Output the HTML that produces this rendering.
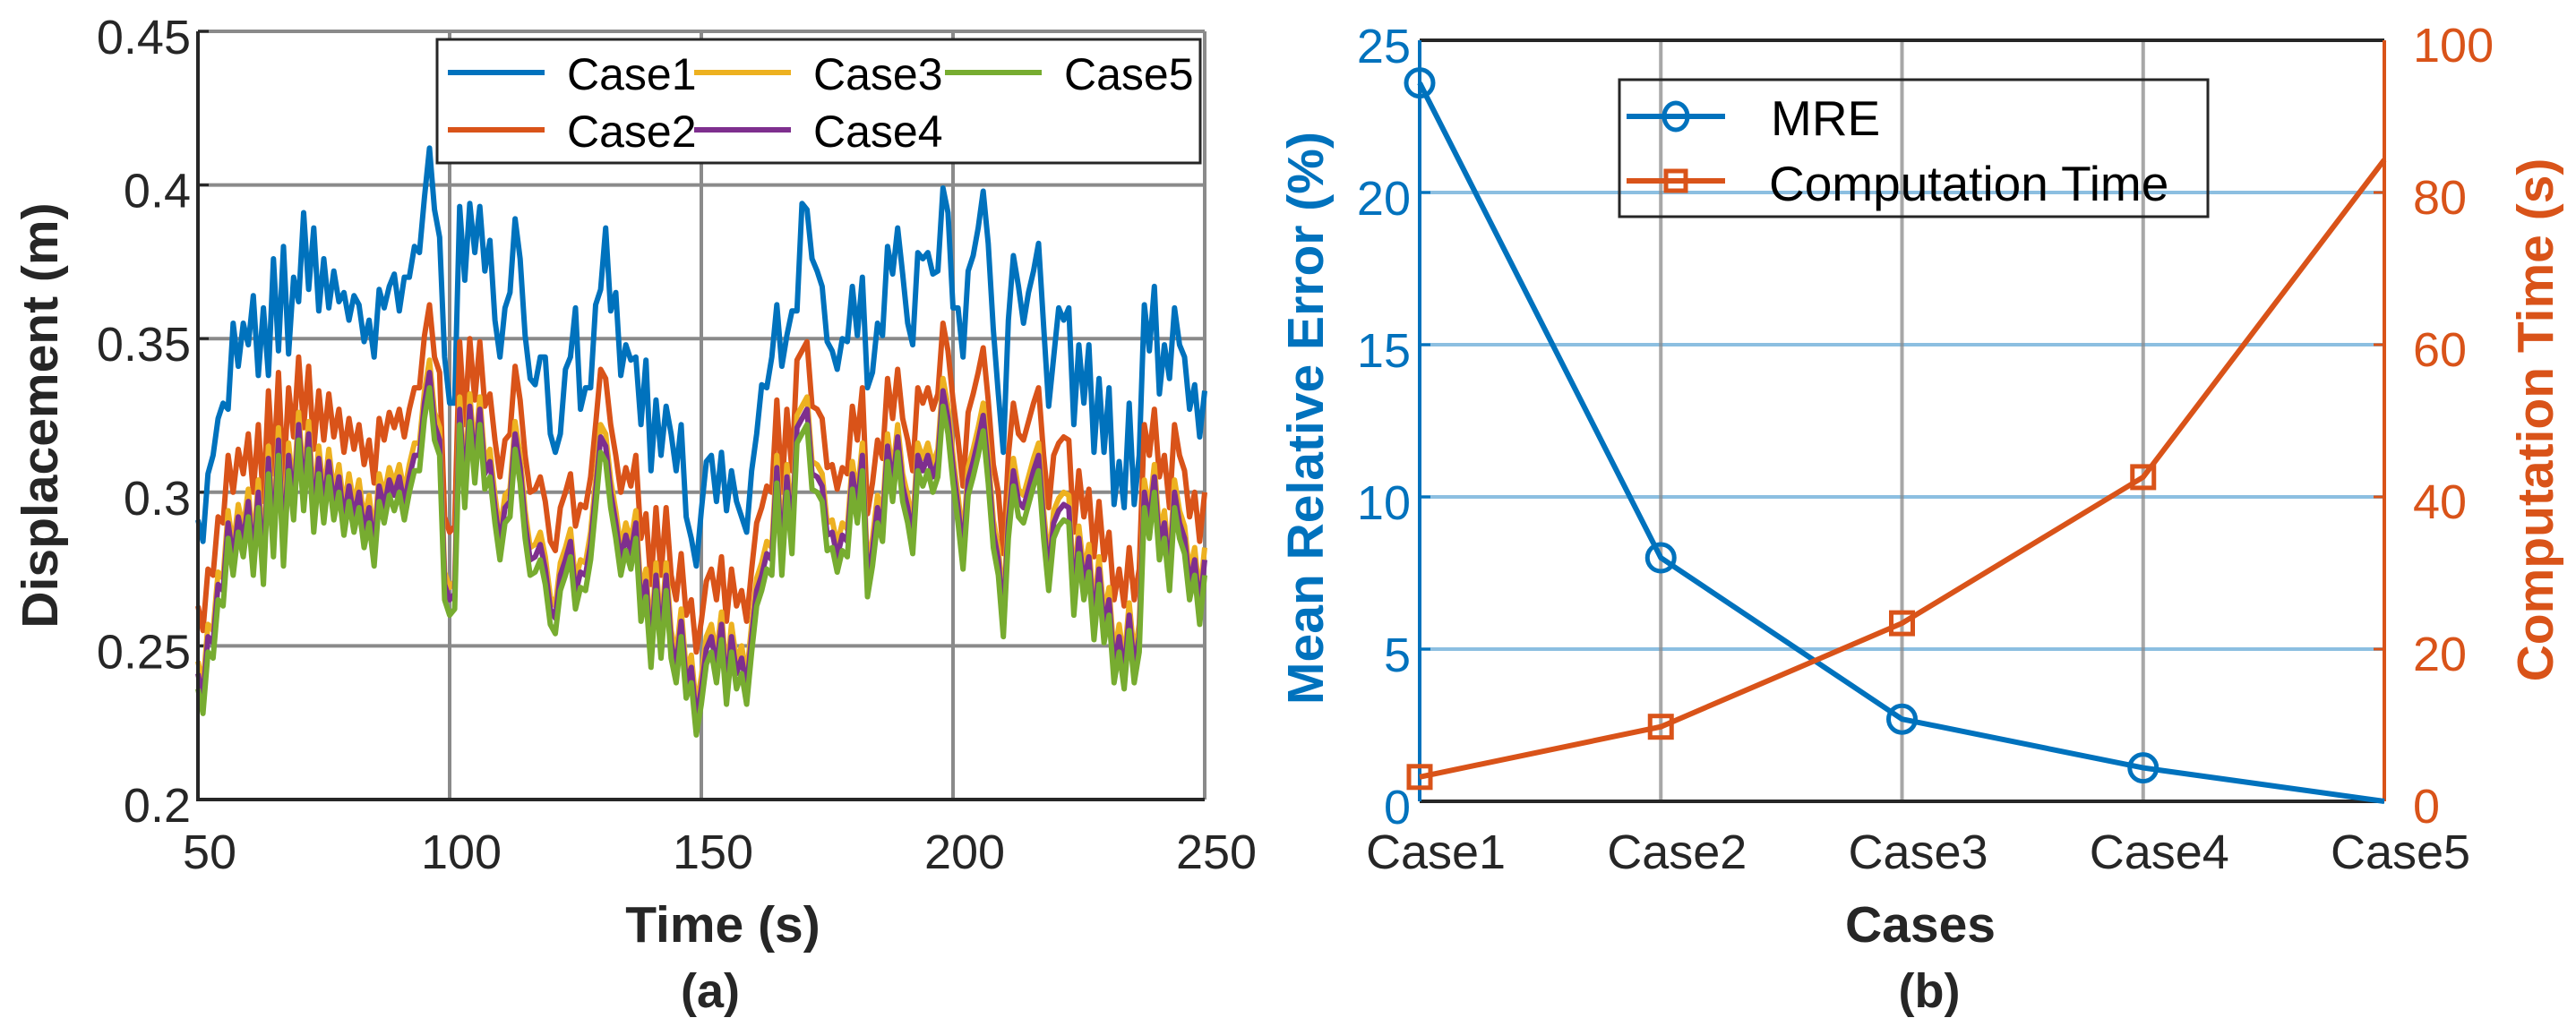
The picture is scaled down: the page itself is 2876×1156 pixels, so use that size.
<!DOCTYPE html>
<html><head><meta charset="utf-8"><style>
html,body{margin:0;padding:0;background:#fff;}
svg{display:block;font-family:"Liberation Sans",Arial,sans-serif;}
</style></head><body>
<svg id="fig" width="2876" height="1156" viewBox="0 0 2876 1156" xmlns="http://www.w3.org/2000/svg">
<rect x="0" y="0" width="2876" height="1156" fill="#fff"/>
<g id="pa"></g>
<g id="pb"></g>
<text x="45" y="464" transform="rotate(-90 45 464)" text-anchor="middle" dominant-baseline="central" font-size="57" font-weight="bold" fill="#262626">Displacement (m)</text>
<text x="807" y="1052" text-anchor="middle" font-size="57" font-weight="bold" fill="#262626">Time (s)</text>
<text x="793" y="1125" text-anchor="middle" font-size="54" font-weight="bold" fill="#262626">(a)</text>
<text x="1458" y="467" transform="rotate(-90 1458 467)" text-anchor="middle" dominant-baseline="central" font-size="57" font-weight="bold" fill="#0072bd">Mean Relative Error (%)</text>
<text x="2831" y="469" transform="rotate(-90 2831 469)" text-anchor="middle" dominant-baseline="central" font-size="57" font-weight="bold" fill="#d95319">Computation Time (s)</text>
<text x="2144" y="1052" text-anchor="middle" font-size="57" font-weight="bold" fill="#262626">Cases</text>
<text x="2154" y="1125" text-anchor="middle" font-size="54" font-weight="bold" fill="#262626">(b)</text>
</svg>
<script>
// ---------- Panel (a) data ----------
var tStart = 50;
var tStep = 1;
var xTicksA = [50,100,150,200,250];
var yTicksA = [0.2,0.25,0.3,0.35,0.4,0.45];
var yTickLabelsA = ["0.2","0.25","0.3","0.35","0.4","0.45"];
var seriesNamesA = ["Case1","Case2","Case3","Case4","Case5"];
var case1 = [0.291,0.284,0.306,0.312,0.324,0.329,0.327,0.355,0.341,0.355,
0.348,0.364,0.338,0.360,0.338,0.376,0.346,0.380,0.345,0.370,
0.362,0.391,0.366,0.386,0.359,0.376,0.360,0.372,0.362,0.365,
0.356,0.364,0.361,0.349,0.356,0.344,0.366,0.360,0.367,0.371,
0.359,0.370,0.370,0.380,0.378,0.396,0.412,0.392,0.383,0.344,
0.329,0.329,0.393,0.369,0.394,0.378,0.393,0.372,0.382,0.356,
0.344,0.360,0.365,0.389,0.376,0.351,0.337,0.335,0.344,0.344,
0.319,0.313,0.319,0.340,0.344,0.360,0.327,0.334,0.334,0.361,
0.366,0.386,0.359,0.365,0.338,0.348,0.343,0.344,0.322,0.343,
0.307,0.330,0.312,0.328,0.319,0.307,0.322,0.292,0.285,0.276,
0.294,0.310,0.312,0.297,0.313,0.294,0.307,0.297,0.292,0.287,
0.307,0.319,0.335,0.334,0.344,0.361,0.341,0.351,0.359,0.359,
0.394,0.392,0.376,0.372,0.367,0.349,0.346,0.340,0.350,0.349,
0.367,0.351,0.370,0.334,0.339,0.355,0.351,0.380,0.371,0.386,
0.371,0.355,0.348,0.378,0.376,0.378,0.371,0.372,0.399,0.391,
0.360,0.360,0.344,0.372,0.377,0.386,0.398,0.381,0.353,0.332,
0.313,0.356,0.377,0.367,0.355,0.365,0.372,0.381,0.354,0.328,
0.344,0.360,0.356,0.360,0.322,0.348,0.329,0.348,0.313,0.337,
0.313,0.334,0.296,0.310,0.295,0.329,0.296,0.312,0.361,0.346,
0.367,0.332,0.348,0.337,0.360,0.348,0.344,0.327,0.335,0.318,
0.333];
var case2 = [0.263,0.255,0.275,0.273,0.292,0.290,0.312,0.300,0.314,0.306,
0.319,0.300,0.322,0.297,0.333,0.306,0.339,0.303,0.334,0.318,
0.344,0.321,0.341,0.314,0.333,0.317,0.332,0.318,0.327,0.313,
0.324,0.314,0.322,0.309,0.317,0.303,0.324,0.317,0.326,0.321,
0.327,0.318,0.327,0.334,0.334,0.351,0.361,0.344,0.339,0.292,
0.287,0.289,0.349,0.322,0.350,0.330,0.349,0.328,0.332,0.317,
0.305,0.317,0.319,0.341,0.330,0.312,0.300,0.301,0.305,0.297,
0.284,0.281,0.295,0.300,0.306,0.289,0.296,0.295,0.305,0.322,
0.340,0.337,0.322,0.312,0.300,0.308,0.302,0.312,0.285,0.293,
0.270,0.295,0.273,0.295,0.273,0.265,0.280,0.260,0.265,0.248,
0.258,0.271,0.275,0.265,0.279,0.258,0.275,0.263,0.268,0.258,
0.275,0.290,0.295,0.302,0.300,0.330,0.300,0.327,0.307,0.343,
0.346,0.349,0.328,0.327,0.324,0.308,0.309,0.301,0.308,0.306,
0.328,0.317,0.334,0.293,0.303,0.317,0.311,0.337,0.324,0.340,
0.324,0.317,0.307,0.334,0.329,0.334,0.327,0.332,0.355,0.346,
0.330,0.317,0.302,0.326,0.332,0.339,0.347,0.330,0.309,0.300,
0.280,0.312,0.329,0.319,0.317,0.323,0.329,0.334,0.312,0.295,
0.312,0.316,0.318,0.317,0.287,0.307,0.292,0.301,0.279,0.297,
0.278,0.287,0.265,0.275,0.263,0.282,0.265,0.275,0.322,0.312,
0.327,0.305,0.312,0.295,0.322,0.312,0.307,0.292,0.300,0.284,
0.300];
var case3 = [0.245,0.237,0.257,0.255,0.274,0.272,0.294,0.282,0.296,0.288,
0.301,0.282,0.304,0.279,0.315,0.288,0.321,0.285,0.316,0.300,
0.326,0.303,0.323,0.296,0.315,0.299,0.314,0.300,0.309,0.295,
0.306,0.296,0.304,0.291,0.299,0.285,0.306,0.299,0.308,0.303,
0.309,0.300,0.309,0.316,0.316,0.333,0.343,0.326,0.321,0.274,
0.269,0.271,0.331,0.304,0.332,0.312,0.331,0.310,0.314,0.299,
0.287,0.299,0.301,0.323,0.312,0.294,0.282,0.283,0.287,0.279,
0.266,0.263,0.277,0.282,0.288,0.271,0.278,0.277,0.287,0.304,
0.322,0.319,0.304,0.294,0.282,0.290,0.284,0.294,0.267,0.275,
0.252,0.277,0.255,0.277,0.255,0.247,0.262,0.242,0.247,0.230,
0.240,0.253,0.257,0.247,0.261,0.240,0.257,0.245,0.250,0.240,
0.257,0.272,0.277,0.284,0.282,0.312,0.282,0.309,0.289,0.325,
0.328,0.331,0.310,0.309,0.306,0.290,0.291,0.283,0.290,0.288,
0.310,0.299,0.316,0.275,0.285,0.299,0.293,0.319,0.306,0.322,
0.306,0.299,0.289,0.316,0.311,0.316,0.309,0.314,0.337,0.328,
0.312,0.299,0.284,0.308,0.314,0.321,0.329,0.312,0.291,0.282,
0.262,0.294,0.311,0.301,0.299,0.305,0.311,0.316,0.294,0.277,
0.294,0.298,0.300,0.299,0.269,0.289,0.274,0.283,0.261,0.279,
0.260,0.269,0.247,0.257,0.245,0.264,0.247,0.257,0.304,0.294,
0.309,0.287,0.294,0.277,0.304,0.294,0.289,0.274,0.282,0.266,
0.282];
var case4 = [0.241,0.233,0.253,0.251,0.270,0.268,0.290,0.278,0.292,0.284,
0.297,0.278,0.300,0.275,0.311,0.284,0.317,0.281,0.312,0.296,
0.322,0.299,0.319,0.292,0.311,0.295,0.310,0.296,0.305,0.291,
0.302,0.292,0.300,0.287,0.295,0.281,0.302,0.295,0.304,0.299,
0.305,0.296,0.305,0.312,0.312,0.329,0.339,0.322,0.317,0.270,
0.265,0.267,0.327,0.300,0.328,0.308,0.327,0.306,0.310,0.295,
0.283,0.295,0.297,0.319,0.308,0.290,0.278,0.279,0.283,0.275,
0.262,0.259,0.273,0.278,0.284,0.267,0.274,0.273,0.283,0.300,
0.318,0.315,0.300,0.290,0.278,0.286,0.280,0.290,0.263,0.271,
0.248,0.273,0.251,0.273,0.251,0.243,0.258,0.238,0.243,0.226,
0.236,0.249,0.253,0.243,0.257,0.236,0.253,0.241,0.246,0.236,
0.253,0.268,0.273,0.280,0.278,0.308,0.278,0.305,0.285,0.321,
0.324,0.327,0.306,0.305,0.302,0.286,0.287,0.279,0.286,0.284,
0.306,0.295,0.312,0.271,0.281,0.295,0.289,0.315,0.302,0.318,
0.302,0.295,0.285,0.312,0.307,0.312,0.305,0.310,0.333,0.324,
0.308,0.295,0.280,0.304,0.310,0.317,0.325,0.308,0.287,0.278,
0.258,0.290,0.307,0.297,0.295,0.301,0.307,0.312,0.290,0.273,
0.290,0.294,0.296,0.295,0.265,0.285,0.270,0.279,0.257,0.275,
0.256,0.265,0.243,0.253,0.241,0.260,0.243,0.253,0.300,0.290,
0.305,0.283,0.290,0.273,0.300,0.290,0.285,0.270,0.278,0.262,
0.278];
var case5 = [0.236,0.228,0.248,0.246,0.265,0.263,0.285,0.273,0.287,0.279,
0.292,0.273,0.295,0.270,0.306,0.279,0.312,0.276,0.307,0.291,
0.317,0.294,0.314,0.287,0.306,0.290,0.305,0.291,0.300,0.286,
0.297,0.287,0.295,0.282,0.290,0.276,0.297,0.290,0.299,0.294,
0.300,0.291,0.300,0.307,0.307,0.324,0.334,0.317,0.312,0.265,
0.260,0.262,0.322,0.295,0.323,0.303,0.322,0.301,0.305,0.290,
0.278,0.290,0.292,0.314,0.303,0.285,0.273,0.274,0.278,0.270,
0.257,0.254,0.268,0.273,0.279,0.262,0.269,0.268,0.278,0.295,
0.313,0.310,0.295,0.285,0.273,0.281,0.275,0.285,0.258,0.266,
0.243,0.268,0.246,0.268,0.246,0.238,0.253,0.233,0.238,0.221,
0.231,0.244,0.248,0.238,0.252,0.231,0.248,0.236,0.241,0.231,
0.248,0.263,0.268,0.275,0.273,0.303,0.273,0.300,0.280,0.316,
0.319,0.322,0.301,0.300,0.297,0.281,0.282,0.274,0.281,0.279,
0.301,0.290,0.307,0.266,0.276,0.290,0.284,0.310,0.297,0.313,
0.297,0.290,0.280,0.307,0.302,0.307,0.300,0.305,0.328,0.319,
0.303,0.290,0.275,0.299,0.305,0.312,0.320,0.303,0.282,0.273,
0.253,0.285,0.302,0.292,0.290,0.296,0.302,0.307,0.285,0.268,
0.285,0.289,0.291,0.290,0.260,0.280,0.265,0.274,0.252,0.270,
0.251,0.260,0.238,0.248,0.236,0.255,0.238,0.248,0.295,0.285,
0.300,0.278,0.285,0.268,0.295,0.285,0.280,0.265,0.273,0.257,
0.273];

// ---------- Panel (b) data ----------
var cases = ["Case1","Case2","Case3","Case4","Case5"];
var mre = [23.6, 8.0, 2.7, 1.1, 0.0];
var compTime = [3.2, 9.8, 23.4, 42.6, 84.3];
var yTicksL = [0,5,10,15,20,25];
var yTicksR = [0,20,40,60,80,100];

var NS = "http://www.w3.org/2000/svg";
function mk(tag, parent, attrs){
  var e = document.createElementNS(NS, tag);
  for (var k in attrs) e.setAttribute(k, attrs[k]);
  parent.appendChild(e);
  return e;
}
var colors = ["#0072bd","#d95319","#edb120","#7e2f8e","#77ac30"];

// ---------- Panel (a) ----------
var pa = document.getElementById('pa');
var AX0=221, AX1=1345, AY0=35, AY1=893;
function xA(t){ return AX0 + (t-50)/200*(AX1-AX0); }
function yA(v){ return AY1 - (v-0.2)/0.25*(AY1-AY0); }

xTicksA.forEach(function(t){
  var g = mk('line', pa, {x1:xA(t), x2:xA(t), y1:AY0, y2:AY1, stroke:'#8a8a8a', 'stroke-width':4});
  
  
  var tx = mk('text', pa, {x:xA(t)+13, y:952, 'text-anchor':'middle', 'dominant-baseline':'central', 'font-size':54, fill:'#262626'});
  tx.textContent = String(t);
  
  
});
yTicksA.forEach(function(v,i){
  var g = mk('line', pa, {x1:AX0, x2:AX1, y1:yA(v), y2:yA(v), stroke:'#8a8a8a', 'stroke-width':4});
  
  
  var tk = mk('line', pa, {x1:AX0, x2:AX0+12, y1:yA(v), y2:yA(v), stroke:'#262626', 'stroke-width':3});
  
  
  var tx = mk('text', pa, {x:213, y:yA(v)+7, 'text-anchor':'end', 'dominant-baseline':'central', 'font-size':54, fill:'#262626'});
  tx.textContent = yTickLabelsA[i];
  
  
});

[case1,case2,case3,case4,case5].forEach(function(arr, si){
  var d = arr.map(function(v,i){ return (i?'L':'M') + xA(tStart+i*tStep).toFixed(1) + ',' + yA(v).toFixed(1); }).join('');
  var p = mk('path', pa, {d:d, fill:'none', stroke:colors[si], 'stroke-width':6, 'stroke-linejoin':'round'});
  
  
});

var axA = mk('path', pa, {d:'M'+AX0+','+AY0+'L'+AX0+','+AY1+'L'+AX1+','+AY1, fill:'none', stroke:'#262626', 'stroke-width':4});



// legend a
var lgA = mk('g', pa, {});


var lbA = mk('rect', lgA, {x:488, y:44, width:852, height:138, fill:'#fff', stroke:'#262626', 'stroke-width':3});


var legPos = [[500,81],[500,145],[775,81],[775,145],[1055,81]];
seriesNamesA.forEach(function(n,i){
  var lx = legPos[i][0], ly = legPos[i][1];
  var l = mk('line', lgA, {x1:lx, x2:lx+108, y1:ly, y2:ly, stroke:colors[i], 'stroke-width':6});
  
  
  var t = mk('text', lgA, {x:lx+133, y:ly+2, 'dominant-baseline':'central', 'font-size':50, fill:'#000'});
  t.textContent = n;
  
  
});

// ---------- Panel (b) ----------
var pb = document.getElementById('pb');
var BX0=1585, BX1=2662, BY0=45, BY1=895;
function xB(i){ return BX0 + i*(BX1-BX0)/(cases.length-1); }
function yL(v){ return BY1 - v/25*(BY1-BY0); }
function yR(v){ return BY1 - v/100*(BY1-BY0); }

yTicksL.forEach(function(v){
  if (v>0 && v<25){
    var g = mk('line', pb, {x1:BX0, x2:BX1, y1:yL(v), y2:yL(v), stroke:'#0072bd', 'stroke-opacity':0.45, 'stroke-width':4});
    
    
  }
  var tk = mk('line', pb, {x1:BX0, x2:BX0+12, y1:yL(v), y2:yL(v), stroke:'#0072bd', 'stroke-width':3});
  
  
  var tx = mk('text', pb, {x:1575, y:yL(v)+7, 'text-anchor':'end', 'dominant-baseline':'central', 'font-size':54, fill:'#0072bd'});
  tx.textContent = String(v);
  
  
});
yTicksR.forEach(function(v){
  var tk = mk('line', pb, {x1:BX1-12, x2:BX1, y1:yR(v), y2:yR(v), stroke:'#d95319', 'stroke-width':3});
  
  
  var tx = mk('text', pb, {x:2694, y:yR(v)+6, 'text-anchor':'start', 'dominant-baseline':'central', 'font-size':54, fill:'#d95319'});
  tx.textContent = String(v);
  
  
});
cases.forEach(function(c,i){
  if (i>0 && i<cases.length-1){
    var g = mk('line', pb, {x1:xB(i), x2:xB(i), y1:BY0, y2:BY1, stroke:'#8a8a8a', 'stroke-opacity':0.75, 'stroke-width':4});
    
    
  }
  var tx = mk('text', pb, {x:xB(i)+18, y:952, 'text-anchor':'middle', 'dominant-baseline':'central', 'font-size':54, fill:'#262626'});
  tx.textContent = c;
  
  
});
var bt = mk('line', pb, {x1:BX0, x2:BX1, y1:BY0, y2:BY0, stroke:'#262626', 'stroke-width':4});


var bb = mk('line', pb, {x1:BX0, x2:BX1, y1:BY1, y2:BY1, stroke:'#262626', 'stroke-width':4});


var bl = mk('line', pb, {x1:BX0, x2:BX0, y1:BY0, y2:BY1, stroke:'#0072bd', 'stroke-width':4});


var br = mk('line', pb, {x1:BX1, x2:BX1, y1:BY0, y2:BY1, stroke:'#d95319', 'stroke-width':4});



var dm = mre.map(function(v,i){ return (i?'L':'M') + xB(i) + ',' + yL(v); }).join('');
var lm = mk('path', pb, {d:dm, fill:'none', stroke:'#0072bd', 'stroke-width':6});


var dc = compTime.map(function(v,i){ return (i?'L':'M') + xB(i) + ',' + yR(v); }).join('');
var lc = mk('path', pb, {d:dc, fill:'none', stroke:'#d95319', 'stroke-width':6});


mre.forEach(function(v,i){
  if (i===cases.length-1) return;
  var c = mk('circle', pb, {cx:xB(i), cy:yL(v), r:15, fill:'none', stroke:'#0072bd', 'stroke-width':5});
  
  
});
compTime.forEach(function(v,i){
  if (i===cases.length-1) return;
  var s = mk('rect', pb, {x:xB(i)-12, y:yR(v)-12, width:24, height:24, fill:'none', stroke:'#d95319', 'stroke-width':5});
  
  
});

// legend b
var lgB = mk('g', pb, {});


var lbB = mk('rect', lgB, {x:1808, y:89, width:657, height:153, fill:'none', stroke:'#262626', 'stroke-width':3});


var l1 = mk('line', lgB, {x1:1816, x2:1926, y1:130, y2:130, stroke:'#0072bd', 'stroke-width':6});


var c1 = mk('ellipse', lgB, {cx:1871, cy:130, rx:13, ry:15, fill:'none', stroke:'#0072bd', 'stroke-width':5});


var t1 = mk('text', lgB, {x:1977, y:132, 'dominant-baseline':'central', 'font-size':55, fill:'#000'});
t1.textContent = 'MRE';


var l2 = mk('line', lgB, {x1:1816, x2:1926, y1:202, y2:202, stroke:'#d95319', 'stroke-width':6});


var s2 = mk('rect', lgB, {x:1860, y:191, width:22, height:22, fill:'none', stroke:'#d95319', 'stroke-width':5});


var t2 = mk('text', lgB, {x:1975, y:205, 'dominant-baseline':'central', 'font-size':55, fill:'#000'});
t2.textContent = 'Computation Time';


</script>
</body></html>
